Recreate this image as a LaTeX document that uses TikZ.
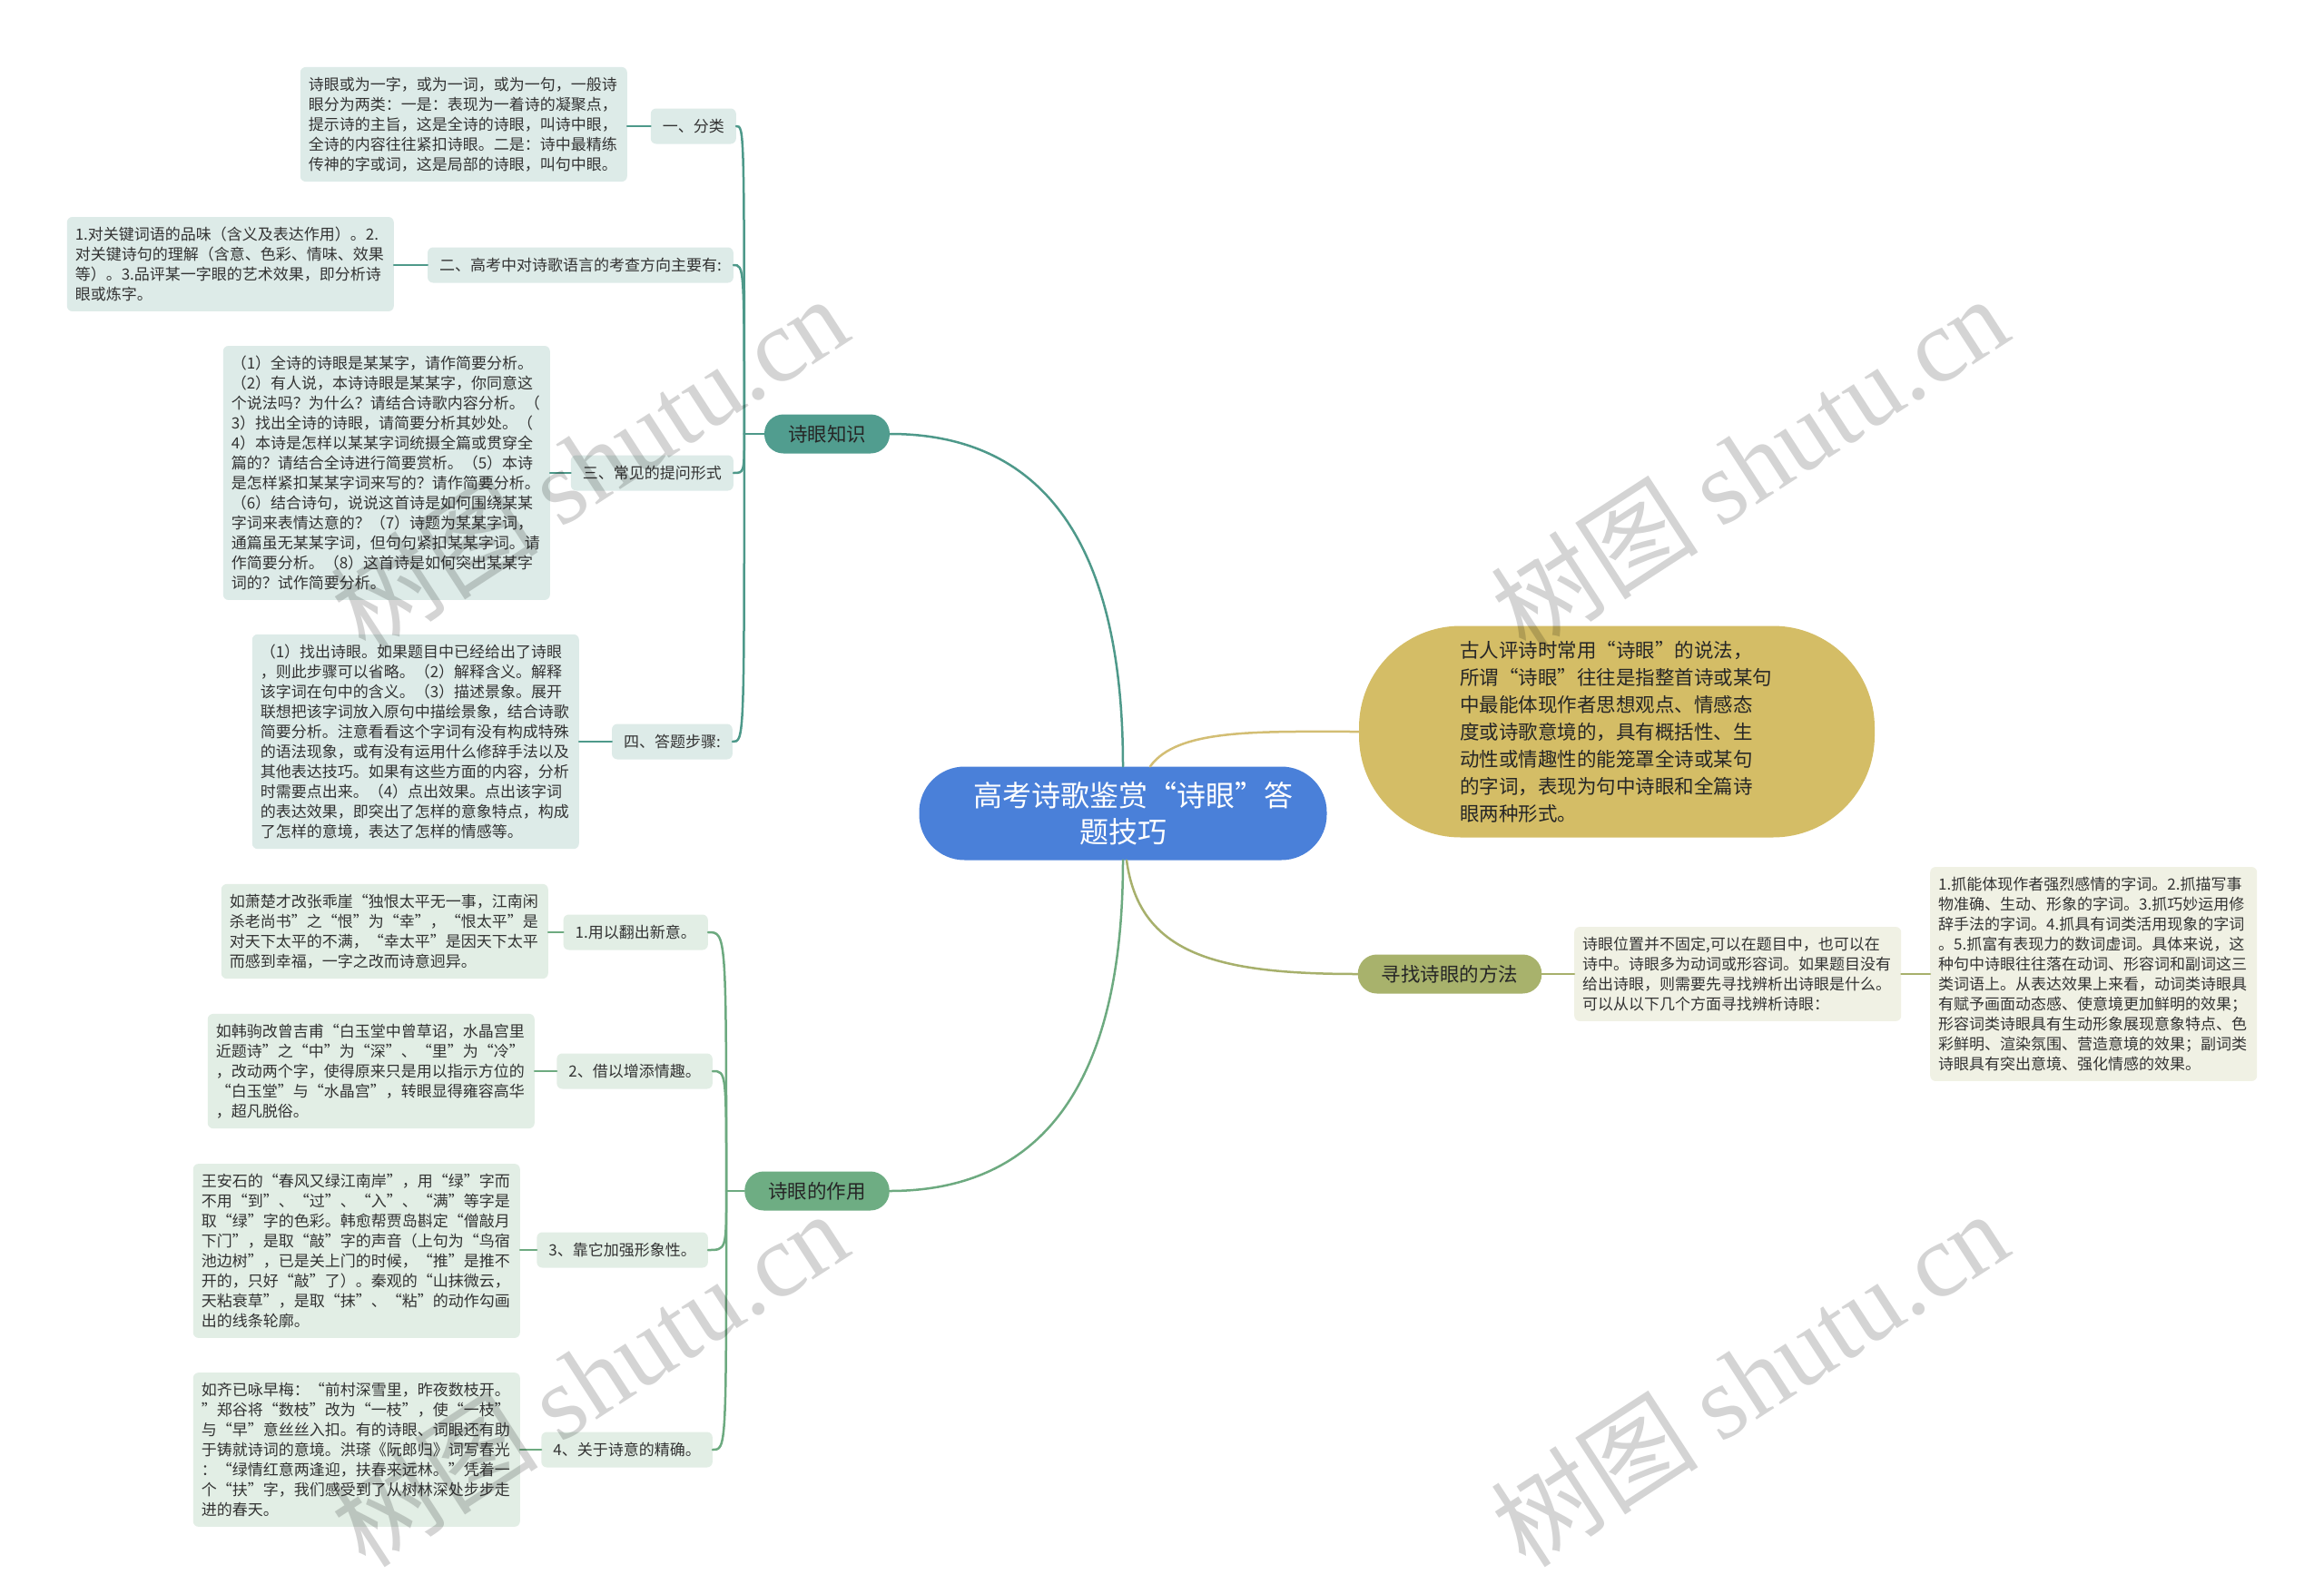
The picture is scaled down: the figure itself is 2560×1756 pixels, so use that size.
\documentclass[tikz,border=0pt]{standalone}
\usepackage{fontspec}
\setmainfont{Noto Sans CJK SC}
\newfontfamily\wmlatin{Liberation Serif}
\usetikzlibrary{calc}
\definecolor{rootblue}{HTML}{4A80D9}
\definecolor{yellowfill}{HTML}{D4BD66}
\definecolor{tealpill}{HTML}{519D8F}
\definecolor{greenpill}{HTML}{6EAD83}
\definecolor{olivepill}{HTML}{A8B26C}
\definecolor{tealleaf}{HTML}{DDEBE8}
\definecolor{greenleaf}{HTML}{E2EEE5}
\definecolor{oliveleaf}{HTML}{F0F1E4}
\definecolor{cteal}{HTML}{4E998A}
\definecolor{cgreen}{HTML}{6DAA80}
\definecolor{colive}{HTML}{A7B06C}
\definecolor{cyellow}{HTML}{D3BE74}
\definecolor{txt}{HTML}{333333}
\begin{document}
\begin{tikzpicture}[x=1pt,y=-1pt,
  smallfont/.style={font=\fontsize{17pt}{22pt}\selectfont},
  leafbox/.style={smallfont, rounded corners=6pt, inner xsep=9pt, inner ysep=11pt, text width=342pt, align=left, text=txt},
  labelbox/.style={smallfont, rounded corners=6pt, inner xsep=13pt, inner ysep=4pt, minimum height=39pt, text=txt},
  pillbox/.style={font=\fontsize{21.5pt}{26pt}\selectfont, rounded corners=21pt, minimum height=43pt, inner xsep=26pt, text=black!85},
  cline/.style={line width=2.5pt, line cap=round},
  wmark/.style={text=black, text opacity=0.17, rotate=33, font=\fontsize{115pt}{120pt}\selectfont}
]
\useasboundingbox[fill=white] (0,0) rectangle (2560,1756);

% ---------- root and main topics ----------
\node[fill=rootblue, rounded corners=50pt, minimum width=449pt, minimum height=103pt, text width=330pt, align=center, text=white, font=\fontsize{32pt}{40pt}\selectfont] (root) at (1237,896) {高考诗歌鉴赏“诗眼”答\\题技巧};

\node[fill=yellowfill, rounded corners=112pt, minimum width=568pt, minimum height=233pt, text width=346pt, align=left, text=black!85, font=\fontsize{21.5pt}{30pt}\selectfont] (intro) at (1781,806) {古人评诗时常用“诗眼”的说法，\\所谓“诗眼”往往是指整首诗或某句\\中最能体现作者思想观点、情感态\\度或诗歌意境的，具有概括性、生\\动性或情趣性的能笼罩全诗或某句\\的字词，表现为句中诗眼和全篇诗\\眼两种形式。};

\node[pillbox, fill=tealpill] (know) at (911,478) {诗眼知识};
\node[pillbox, fill=greenpill] (use) at (900,1312) {诗眼的作用};
\node[pillbox, fill=olivepill] (find) at (1597,1073) {寻找诗眼的方法};

% ---------- 诗眼知识 branch ----------
\node[labelbox, fill=tealleaf, anchor=east] (k1) at (811,139) {一、分类};
\node[labelbox, fill=tealleaf, anchor=east] (k2) at (808,292) {二、高考中对诗歌语言的考查方向主要有:};
\node[labelbox, fill=tealleaf, anchor=east] (k3) at (808,521) {三、常见的提问形式};
\node[labelbox, fill=tealleaf, anchor=east] (k4) at (807,817) {四、答题步骤:};

\node[leafbox, fill=tealleaf, anchor=east] (kl1) at (691,137) {诗眼或为一字，或为一词，或为一句，一般诗\\眼分为两类：一是：表现为一着诗的凝聚点，\\提示诗的主旨，这是全诗的诗眼，叫诗中眼，\\全诗的内容往往紧扣诗眼。二是：诗中最精练\\传神的字或词，这是局部的诗眼，叫句中眼。};
\node[leafbox, fill=tealleaf, anchor=east] (kl2) at (434,291) {1.对关键词语的品味（含义及表达作用）。2.\\对关键诗句的理解（含意、色彩、情味、效果\\等）。3.品评某一字眼的艺术效果，即分析诗\\眼或炼字。};
\node[leafbox, fill=tealleaf, anchor=east] (kl3) at (606,521) {（1）全诗的诗眼是某某字，请作简要分析。\\（2）有人说，本诗诗眼是某某字，你同意这\\个说法吗？为什么？请结合诗歌内容分析。（\\3）找出全诗的诗眼，请简要分析其妙处。（\\4）本诗是怎样以某某字词统摄全篇或贯穿全\\篇的？请结合全诗进行简要赏析。（5）本诗\\是怎样紧扣某某字词来写的？请作简要分析。\\（6）结合诗句，说说这首诗是如何围绕某某\\字词来表情达意的？（7）诗题为某某字词，\\通篇虽无某某字词，但句句紧扣某某字词。请\\作简要分析。（8）这首诗是如何突出某某字\\词的？试作简要分析。};
\node[leafbox, fill=tealleaf, anchor=east] (kl4) at (638,817) {（1）找出诗眼。如果题目中已经给出了诗眼\\，则此步骤可以省略。（2）解释含义。解释\\该字词在句中的含义。（3）描述景象。展开\\联想把该字词放入原句中描绘景象，结合诗歌\\简要分析。注意看看这个字词有没有构成特殊\\的语法现象，或有没有运用什么修辞手法以及\\其他表达技巧。如果有这些方面的内容，分析\\时需要点出来。（4）点出效果。点出该字词\\的表达效果，即突出了怎样的意象特点，构成\\了怎样的意境，表达了怎样的情感等。};

% ---------- 诗眼的作用 branch ----------
\node[labelbox, fill=greenleaf, anchor=east] (u1) at (780,1027) {1.用以翻出新意。};
\node[labelbox, fill=greenleaf, anchor=east] (u2) at (785,1180) {2、借以增添情趣。};
\node[labelbox, fill=greenleaf, anchor=east] (u3) at (780,1377) {3、靠它加强形象性。};
\node[labelbox, fill=greenleaf, anchor=east] (u4) at (785,1597) {4、关于诗意的精确。};

\node[leafbox, fill=greenleaf, anchor=east] (ul1) at (604,1026) {如萧楚才改张乖崖“独恨太平无一事，江南闲\\杀老尚书”之“恨”为“幸”，“恨太平”是\\对天下太平的不满，“幸太平”是因天下太平\\而感到幸福，一字之改而诗意迥异。};
\node[leafbox, fill=greenleaf, anchor=east] (ul2) at (589,1180) {如韩驹改曾吉甫“白玉堂中曾草诏，水晶宫里\\近题诗”之“中”为“深”、“里”为“冷”\\，改动两个字，使得原来只是用以指示方位的\\“白玉堂”与“水晶宫”，转眼显得雍容高华\\，超凡脱俗。};
\node[leafbox, fill=greenleaf, anchor=east] (ul3) at (573,1378) {王安石的“春风又绿江南岸”，用“绿”字而\\不用“到”、“过”、“入”、“满”等字是\\取“绿”字的色彩。韩愈帮贾岛斟定“僧敲月\\下门”，是取“敲”字的声音（上句为“鸟宿\\池边树”，已是关上门的时候，“推”是推不\\开的，只好“敲”了）。秦观的“山抹微云，\\天粘衰草”，是取“抹”、“粘”的动作勾画\\出的线条轮廓。};
\node[leafbox, fill=greenleaf, anchor=east] (ul4) at (573,1597) {如齐已咏早梅：“前村深雪里，昨夜数枝开。\\”郑谷将“数枝”改为“一枝”，使“一枝”\\与“早”意丝丝入扣。有的诗眼、词眼还有助\\于铸就诗词的意境。洪瑹《阮郎归》词写春光\\：“绿情红意两逢迎，扶春来远林。”凭着一\\个“扶”字，我们感受到了从树林深处步步走\\进的春天。};

% ---------- 寻找诗眼的方法 branch ----------
\node[leafbox, fill=oliveleaf, anchor=west] (f1) at (1734,1073) {诗眼位置并不固定,可以在题目中，也可以在\\诗中。诗眼多为动词或形容词。如果题目没有\\给出诗眼，则需要先寻找辨析出诗眼是什么。\\可以从以下几个方面寻找辨析诗眼：};
\node[leafbox, fill=oliveleaf, anchor=west] (f2) at (2126,1073) {1.抓能体现作者强烈感情的字词。2.抓描写事\\物准确、生动、形象的字词。3.抓巧妙运用修\\辞手法的字词。4.抓具有词类活用现象的字词\\。5.抓富有表现力的数词虚词。具体来说，这\\种句中诗眼往往落在动词、形容词和副词这三\\类词语上。从表达效果上来看，动词类诗眼具\\有赋予画面动态感、使意境更加鲜明的效果；\\形容词类诗眼具有生动形象展现意象特点、色\\彩鲜明、渲染氛围、营造意境的效果；副词类\\诗眼具有突出意境、强化情感的效果。};

% ---------- main connectors ----------
\draw[cline, cteal] (know.east) .. controls +(170,0) and +(0,-244) .. (root.north);
\draw[cline, cgreen] (use.east) .. controls +(170,0) and +(0,243) .. (root.south);
\draw[cline, cyellow] ([xshift=30pt]root.north) .. controls +(30,-42) and +(-110,0) .. (intro.west);
\draw[cline, colive] ([xshift=4pt]root.south) .. controls +(14,103) and +(-157,0) .. (find.west);

% ---------- 诗眼知识 spine ----------
\coordinate (sT) at ([xshift=-22pt]know.west);
\draw[cline, cteal] (know.west) -- (sT);
\foreach \c in {k1,k2,k3,k4}{
  \draw[cline, cteal] (sT) .. controls (sT |- \c.east) .. (\c.east);
}
\draw[cline, cteal] (k1.west) -- (k1.west -| kl1.east);
\draw[cline, cteal] (k2.west) -- (k2.west -| kl2.east);
\draw[cline, cteal] (k3.west) -- (k3.west -| kl3.east);
\draw[cline, cteal] (k4.west) -- (k4.west -| kl4.east);

% ---------- 诗眼的作用 spine ----------
\coordinate (sG) at ([xshift=-20pt]use.west);
\draw[cline, cgreen] (use.west) -- (sG);
\foreach \c in {u1,u2,u3,u4}{
  \draw[cline, cgreen] (sG) .. controls (sG |- \c.east) .. (\c.east);
}
\draw[cline, cgreen] (u1.west) -- (u1.west -| ul1.east);
\draw[cline, cgreen] (u2.west) -- (u2.west -| ul2.east);
\draw[cline, cgreen] (u3.west) -- (u3.west -| ul3.east);
\draw[cline, cgreen] (u4.west) -- (u4.west -| ul4.east);

% ---------- 寻找 connectors ----------
\draw[cline, colive] (find.east) -- (f1.west);
\draw[cline, colive] (f1.east) -- (f2.west);

% ---------- watermarks ----------
\node[wmark] (wm1) at (649,510) {树图 {\wmlatin shutu.cn}};
\node[wmark] (wm2) at (1927,510) {树图 {\wmlatin shutu.cn}};
\node[wmark] (wm3) at (649,1518) {树图 {\wmlatin shutu.cn}};
\node[wmark] (wm4) at (1927,1518) {树图 {\wmlatin shutu.cn}};
\end{tikzpicture}
\end{document}
